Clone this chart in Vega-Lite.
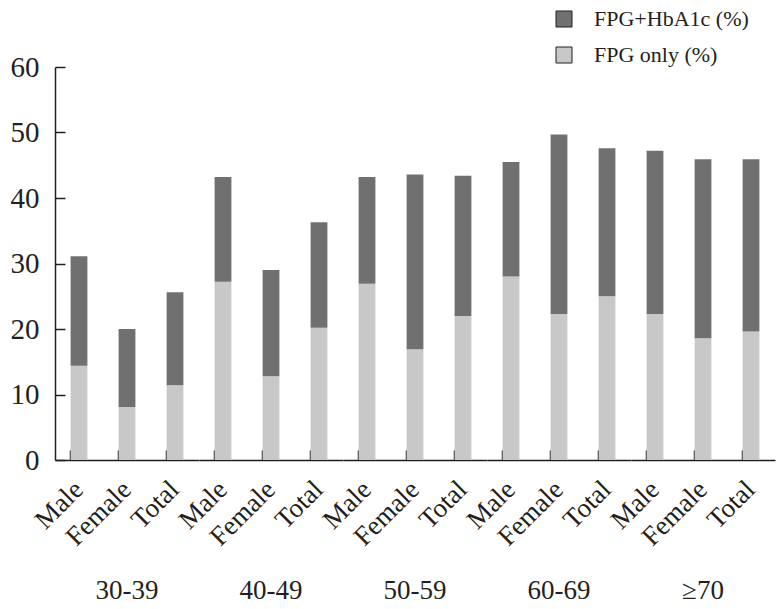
{
  "$schema": "https://vega.github.io/schema/vega-lite/v6.json",
  "background": "white",
  "padding": {"left": 10, "top": 8, "right": 5, "bottom": 5},
  "config": {
    "view": {"stroke": null},
    "font": "Liberation Serif",
    "axis": {"labelFont": "Liberation Serif", "labelColor": "#231f20", "domainColor": "#231f20", "tickColor": "#231f20", "domainWidth": 1.5, "tickWidth": 1.5, "grid": false},
    "facet": {"spacing": 0}
  },
  "data": {"values": [
    {"age": "30-39", "sex": "Male", "series": "FPG only (%)", "value": 14.4},
    {"age": "30-39", "sex": "Male", "series": "FPG+HbA1c (%)", "value": 16.7},
    {"age": "30-39", "sex": "Female", "series": "FPG only (%)", "value": 8.1},
    {"age": "30-39", "sex": "Female", "series": "FPG+HbA1c (%)", "value": 11.9},
    {"age": "30-39", "sex": "Total", "series": "FPG only (%)", "value": 11.4},
    {"age": "30-39", "sex": "Total", "series": "FPG+HbA1c (%)", "value": 14.2},
    {"age": "40-49", "sex": "Male", "series": "FPG only (%)", "value": 27.2},
    {"age": "40-49", "sex": "Male", "series": "FPG+HbA1c (%)", "value": 16.0},
    {"age": "40-49", "sex": "Female", "series": "FPG only (%)", "value": 12.8},
    {"age": "40-49", "sex": "Female", "series": "FPG+HbA1c (%)", "value": 16.2},
    {"age": "40-49", "sex": "Total", "series": "FPG only (%)", "value": 20.2},
    {"age": "40-49", "sex": "Total", "series": "FPG+HbA1c (%)", "value": 16.1},
    {"age": "50-59", "sex": "Male", "series": "FPG only (%)", "value": 26.9},
    {"age": "50-59", "sex": "Male", "series": "FPG+HbA1c (%)", "value": 16.3},
    {"age": "50-59", "sex": "Female", "series": "FPG only (%)", "value": 16.9},
    {"age": "50-59", "sex": "Female", "series": "FPG+HbA1c (%)", "value": 26.7},
    {"age": "50-59", "sex": "Total", "series": "FPG only (%)", "value": 22.0},
    {"age": "50-59", "sex": "Total", "series": "FPG+HbA1c (%)", "value": 21.4},
    {"age": "60-69", "sex": "Male", "series": "FPG only (%)", "value": 28.0},
    {"age": "60-69", "sex": "Male", "series": "FPG+HbA1c (%)", "value": 17.5},
    {"age": "60-69", "sex": "Female", "series": "FPG only (%)", "value": 22.3},
    {"age": "60-69", "sex": "Female", "series": "FPG+HbA1c (%)", "value": 27.4},
    {"age": "60-69", "sex": "Total", "series": "FPG only (%)", "value": 25.0},
    {"age": "60-69", "sex": "Total", "series": "FPG+HbA1c (%)", "value": 22.6},
    {"age": "≥70", "sex": "Male", "series": "FPG only (%)", "value": 22.3},
    {"age": "≥70", "sex": "Male", "series": "FPG+HbA1c (%)", "value": 24.9},
    {"age": "≥70", "sex": "Female", "series": "FPG only (%)", "value": 18.6},
    {"age": "≥70", "sex": "Female", "series": "FPG+HbA1c (%)", "value": 27.3},
    {"age": "≥70", "sex": "Total", "series": "FPG only (%)", "value": 19.6},
    {"age": "≥70", "sex": "Total", "series": "FPG+HbA1c (%)", "value": 26.3}
  ]},
  "facet": {
    "column": {
      "field": "age", "type": "ordinal",
      "sort": ["30-39", "40-49", "50-59", "60-69", "≥70"],
      "header": {"title": null, "labelOrient": "bottom", "labelFont": "Liberation Serif", "labelFontSize": 27, "labelColor": "#231f20", "labelPadding": 28}
    }
  },
  "spec": {
    "width": 144,
    "height": 393,
    "mark": {"type": "bar"},
    "encoding": {
      "x": {
        "field": "sex", "type": "nominal", "sort": ["Male", "Female", "Total"],
        "scale": {"paddingInner": 0.65, "paddingOuter": 0.325},
        "axis": {"title": null, "labelAngle": -45, "labelAlign": "right", "labelBaseline": "middle", "labelFontSize": 27, "tickSize": -10, "bandPosition": 0, "labelPadding": 35}
      },
      "y": {
        "field": "value", "type": "quantitative", "stack": "zero",
        "scale": {"domain": [0, 60], "nice": false},
        "axis": {"title": null, "values": [0, 10, 20, 30, 40, 50, 60], "tickSize": -10, "labelFontSize": 29, "labelPadding": 26}
      },
      "color": {
        "field": "series", "type": "nominal",
        "scale": {"domain": ["FPG+HbA1c (%)", "FPG only (%)"], "range": ["#707070", "#c8c8c8"]},
        "legend": {"title": null, "orient": "none", "legendX": 498, "legendY": -59, "symbolType": "square", "symbolSize": 256, "symbolStrokeColor": "#231f20", "symbolStrokeWidth": 1, "labelFont": "Liberation Serif", "labelFontSize": 22, "labelColor": "#231f20", "rowPadding": 14, "labelOffset": 19}
      },
      "order": {"field": "series", "sort": "ascending"}
    }
  }
}
